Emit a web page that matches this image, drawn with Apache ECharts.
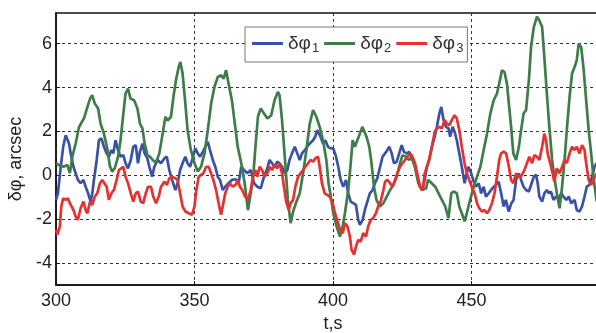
<!DOCTYPE html>
<html>
<head>
<meta charset="utf-8">
<script src="https://cdn.jsdelivr.net/npm/echarts@6/dist/echarts.min.js"></script>
<style>html,body{margin:0;padding:0;background:#fff;overflow:hidden}#c{width:610px;height:333px}</style>
</head>
<body>
<div id="c"></div>
<script>
const seriesNames = ['δφ1', 'δφ2', 'δφ3'];
const xTicks = [300, 350, 400, 450, 500];
const yTicks = [-4, -2, 0, 2, 4, 6];

const tBlue = [300,300.7,301.7,302.6,303.5,304.1,304.7,305.3,306.3,307.1,307.9,308.9,309.9,310.7,311.6,312.5,313.1,313.7,314.7,315.5,316.4,317.3,318.3,319.1,320,320.7,321.5,322.4,323.3,324.3,325.1,326,327,327.9,328.8,329.6,330.3,331.2,332,333,333.7,334.7,335.5,336.7,337.9,339.1,340,340.9,341.9,343.1,343.9,344.8,345.7,346.7,347.5,348.4,349.3,350.3,351.2,352,353,353.9,354.8,355.6,356.6,357.5,358.4,359.2,360.2,361.1,362.3,363.5,364.8,366,366.9,367.9,369.1,370.3,371.5,372.7,373.9,375.1,376.3,377.1,378,378.9,379.9,380.7,381.6,382.5,383.5,384.3,385.2,386.2,387.1,388,388.8,389.8,390.7,391.6,392.8,393.6,394.3,394.8,395.5,396.4,397.2,398.2,399.2,400.1,401.1,401.9,402.8,403.7,404.7,405.5,406.4,407.3,408.3,409.1,409.7,410.7,411.5,412.4,413.3,414.3,415.1,416,417,417.9,418.8,419.6,420.3,421.2,422,423,423.9,424.8,425.6,426.6,427.5,428.7,429.6,430.4,431.4,432.4,433.1,433.9,434.7,435.7,436.7,437.5,438.4,439.1,439.9,440.8,441.7,442.3,443.2,443.9,444.7,445.6,446.5,447.5,448.3,448.9,449.9,450.8,451.6,452.6,453.5,454.4,455.2,456.2,457.1,458,458.8,459.8,460.7,461.6,462.4,463.4,464.4,465.2,466.1,467.1,467.9,468.8,469.7,470.7,471.5,472.5,473.3,473.9,474.5,475.5,476.3,477.2,477.9,478.7,479.6,480.5,481.5,482.4,483.2,484.2,485.1,486,487.2,488,489,489.9,490.8,491.6,492.6,493.5,494.4,495.2];
const vBlue = [-1.12,-0.82,0.39,1.3,1.83,1.9,1.45,1.0,0.39,0.09,-0.21,-0.36,-0.21,-0.52,-0.82,-1.2,-0.82,-0.21,0.7,1.6,1.68,1.3,1.0,0.85,1.15,1.0,1.6,1.15,0.85,0.92,0.55,0.32,0.7,1.3,1.38,0.55,1.07,1.45,1.0,0.77,0.39,-0.06,0.39,0.7,0.55,0.77,0.85,0.24,-0.21,-0.67,-0.36,0.24,0.55,0.85,0.55,0.39,0.77,1.23,1.0,0.85,1.07,1.3,1.53,1.15,0.7,0.39,-0.06,-0.21,-0.67,-0.52,-0.36,-0.21,-0.18,-0.29,0.39,0.24,0.09,0.24,-0.36,-0.52,-0.59,-0.06,0.32,0.7,0.55,0.39,0.62,0.55,0.39,0.09,0.24,0.7,1.0,1.3,1.0,0.7,1.0,1.15,1.3,1.45,1.6,1.76,2.06,2.14,1.76,1.45,1.6,1.3,1.23,1.23,0.85,0.39,-0.21,-0.52,-0.21,-0.82,-1.2,-1.27,-1.35,-2.03,-2.26,-2.03,-1.58,-1.2,-0.82,-0.67,-0.36,-0.14,0.39,0.85,1.0,1.15,1.3,1.0,0.55,0.62,1.0,1.38,1.07,1.0,1.07,0.7,0.39,-0.06,-0.52,-0.59,-0.21,0.39,0.7,1.3,1.76,2.21,2.82,3.12,2.52,2.21,2.14,1.76,2.21,1.98,1.6,1.0,0.39,-0.36,0.09,0.39,0.09,-0.29,-0.52,-0.36,-0.82,-0.52,-0.97,-0.82,-0.67,-0.52,-0.44,-0.29,-0.82,-1.42,-1.12,-1.65,-1.27,-1.12,-0.21,0.09,-0.21,-0.52,-0.67,-0.74,-0.44,-0.06,0.02,-0.36,-0.97,-1.2,-0.82,-0.67,-0.82,-0.74,-1.12,-0.97,-1.05,-0.82,-0.97,-1.12,-0.97,-1.27,-1.12,-1.58,-1.65,-1.42,-0.97,-0.52,-0.44,-0.06,0.39,0.55];

const tGreen = [300,301.7,302.9,304.1,305,305.9,307.1,308.3,310.1,311.3,312.3,313.1,314,315.2,316.1,317.3,318.5,319.5,320.3,321.2,322.4,323.3,324.3,325.1,326,326.9,328.2,329.4,330.3,331.2,332,333,333.9,334.9,336.1,337.3,338.5,339.5,340.3,341.5,342.4,343.3,344.3,344.9,345.7,346.7,347.5,348.7,350,351.2,352.4,353.6,354.8,356,357.2,358.4,359.6,360.5,361.4,362.3,363.5,364.4,365.6,366.9,368.1,369.3,369.9,371.1,372,372.9,373.9,375.1,376.3,377.7,378.9,380.1,380.7,381.6,382.5,383.7,384.7,385.6,386.8,388,389.2,390.4,391.6,392.8,394,395.2,396.4,397.6,398.4,399.4,400.1,401.3,402.5,403.5,404.3,405.5,406.4,407.1,407.9,408.8,409.7,410.6,411.3,412.1,413.1,413.9,414.8,415.7,416.9,418.2,419.4,420.6,421.8,423,424.2,425.1,426.3,427.5,428.4,429.6,430.8,432,433.6,434.3,435.1,436.9,438.7,440.5,441.7,442.7,443.5,444.7,445.6,446.5,447.5,448.3,449.5,450.8,452,453.2,454.4,455.6,456.8,458,459.2,460,461,461.9,462.8,463.6,464.3,465.1,466.1,467.1,467.9,468.8,469.7,470.7,471.5,472.5,473.6,474.5,475.5,476.3,477.2,478.1,479.1,479.9,480.8,481.8,482.7,483.6,484.4,485.4,486.3,487.2,488,488.7,489.6,490.4,491.4,492.3,493.2,494,495.2];
const vGreen = [0.55,0.42,0.4,0.47,0.1,0.85,1.45,2.2,2.6,3.1,3.5,3.65,3.27,3.05,2.36,1.9,1.23,0.4,0.17,0.32,0.85,1.6,2.8,3.73,3.95,3.5,3.42,3.05,2.36,2.14,1.45,0.92,0.85,0.7,0.58,1.0,1.9,2.67,2.5,2.67,3.58,4.33,4.94,5.17,4.64,3.27,2.06,1.15,0.55,0.17,0.4,1.0,2.06,3.27,4.03,4.48,4.56,4.4,4.79,4.18,3.42,2.52,1.3,0.55,-0.36,-1.58,-1.65,-0.2,1.3,2.67,3.05,2.82,2.59,2.74,3.42,3.8,3.65,2.52,1.0,-1.12,-2.18,-1.65,-1.2,-0.82,0.09,1.15,2.36,2.97,2.67,2.21,1.6,0.7,-0.36,-1.12,-1.73,-2.33,-2.79,-2.33,-1.73,-0.67,0.55,1.6,1.3,1.6,1.9,2.21,2.29,1.76,1.3,0.55,-0.52,-1.12,-1.42,-1.27,-0.97,-0.67,-0.44,-0.06,0.55,0.92,0.85,0.7,0.85,0.39,-0.36,-0.67,-0.6,-0.2,-0.29,-0.52,-0.97,-1.42,-1.95,-0.82,-0.74,-0.82,-1.42,-1.73,-2.1,-1.73,-1.12,-0.52,-0.06,0.39,1.15,1.9,2.82,3.42,3.73,4.18,4.79,4.71,4.18,3.12,2.21,1.0,0.7,1.3,2.06,2.82,2.97,4.33,5.85,6.76,7.24,7.06,6.76,5.39,3.73,2.21,0.7,-0.06,-0.82,-1.5,-0.52,0.7,2.06,3.58,4.64,4.94,5.24,6.0,5.85,4.94,3.42,2.06,1.0,-0.06,-1.2];

const tRed = [300,300.5,301.4,301.9,302.6,303.5,304.3,305.3,306.3,307.1,307.9,308.9,309.9,310.7,311.3,312.3,313.1,314,314.9,315.9,316.7,317.3,318.3,319.1,320,320.9,321.9,322.7,323.3,324.3,325.1,326,327,327.9,328.8,329.6,330.6,331.5,332.4,333.2,334.3,335.1,336.1,337.1,337.9,339.1,340,340.9,341.9,343.1,343.9,344.8,345.7,346.7,347.9,349.1,350,350.5,351.5,352.4,353.2,354.2,355.1,356,356.8,357.8,358.7,359.6,360.4,361.1,362,362.8,363.8,364.8,365.6,366.4,367.2,368.3,369.3,370.3,371.1,372,372.7,373.5,374.4,375.3,376.3,377.1,378,378.9,379.9,380.7,381.6,382.3,383.1,384,384.7,385.6,386.4,387.4,388.3,389.2,390,391,391.9,392.8,393.6,394.6,395.2,396,397,397.9,398.8,399.9,400.7,401.5,402.5,403.5,404.3,405.2,406.1,406.7,407.6,408.3,409.1,410,410.9,411.9,412.7,413.6,414.5,415.5,416.3,417.2,418.2,418.8,419.6,420.6,421.5,422.4,423.2,424.2,425.1,426,426.8,427.8,428.7,429.6,430.4,431.4,432.4,433.1,433.9,434.7,435.7,436.7,437.5,438.4,439.3,440.3,441.1,442,442.9,443.9,444.7,445.6,446.5,447.5,448.3,449.2,450.1,451.1,452,452.8,453.8,454.7,455.6,456.4,457.4,458.3,459.2,460,460.7,461.6,462.5,463.5,464.3,465.1,466.1,467.1,467.9,469.1,470,470.9,471.9,472.7,473.6,474.5,475.5,476.3,476.9,477.5,478.4,479.3,479.9,480.8,481.8,482.7,483.6,484.4,485.4,486.3,487.2,488,489,489.9,490.8,491.4,492.3,493.2,494,495.2];
const vRed = [-2.48,-2.7,-2.33,-1.42,-1.05,-1.12,-1.05,-1.35,-1.58,-1.88,-2.03,-1.5,-1.2,-1.58,-1.73,-1.2,-1.35,-0.97,-0.82,-0.36,-0.21,-0.29,-0.52,-1.12,-0.82,-0.67,-0.21,0.24,0.32,0.39,-0.06,-0.36,-0.82,-1.2,-0.82,-0.74,-1.2,-1.27,-0.82,-0.52,-0.52,-0.97,-1.27,-0.97,-0.52,-0.29,-0.44,-0.14,-0.06,-0.14,-0.21,-0.82,-1.42,-1.65,-1.73,-1.8,-1.42,-0.82,-0.06,0.02,0.09,0.39,0.39,0.09,-0.21,-0.67,-1.27,-1.8,-1.27,-0.82,-0.52,-0.36,-0.52,-0.44,-0.21,-0.52,-0.67,-0.97,-1.12,-0.67,-0.06,0.24,-0.06,0.39,0.24,-0.06,0.09,0.39,0.24,0.47,0.32,0.55,0.09,-0.52,-1.2,-1.58,-1.27,-1.12,-0.52,-0.06,0.09,0.24,0.39,0.55,0.7,0.62,0.77,0.85,0.39,-0.36,-0.82,-0.89,-0.97,-1.27,-1.73,-2.03,-2.48,-2.64,-2.18,-2.33,-2.79,-3.39,-3.62,-3.24,-2.94,-3.02,-2.64,-2.79,-2.33,-2.03,-1.95,-1.73,-1.42,-1.2,-0.67,-0.29,-0.21,-0.36,-0.52,-0.21,0.09,0.39,0.55,0.7,0.85,1.0,0.85,0.55,0.09,-0.52,-0.67,0.09,0.39,0.7,1.3,1.98,2.14,2.21,2.14,2.52,2.36,2.29,2.52,2.74,2.59,2.06,1.3,0.55,0.09,-0.21,-0.52,-0.82,-1.27,-1.5,-1.65,-1.58,-1.73,-1.58,-1.27,-0.82,-0.06,0.7,1.0,1.08,1.0,0.39,-0.21,-0.36,0.09,-0.06,-0.06,0.24,0.55,0.85,0.55,0.92,0.85,0.7,1.3,1.9,1.6,1.0,0.55,0.09,-0.29,0.32,0.09,0.39,0.7,0.55,1.0,1.3,1.15,1.3,1.0,1.38,1.15,0.55,-0.21,-0.44,-0.21,0.09];

const colors = ['#3a52a6', '#3e7d48', '#e5312f'];
const pairs = (t, v) => t.map((x, i) => [x, v[i]]);

const chart = echarts.init(document.getElementById('c'), null, {renderer: 'canvas'});
const gridLine = {show: true, lineStyle: {color: '#333', type: [3, 3], width: 1}};
chart.setOption({
  animation: false,
  backgroundColor: '#fff',
  color: colors,
  grid: {left: 56, right: 0, top: 13, bottom: 48, show: true, borderColor: '#111', borderWidth: 1.5, backgroundColor: 'transparent', outerBoundsMode: 'none'},
  legend: {
    data: seriesNames,
    left: 245, top: 27,
    backgroundColor: '#fff', borderColor: '#777', borderWidth: 1,
    padding: [7, 4, 7, 7],
    itemWidth: 31, itemHeight: 3, itemGap: 5, icon: 'rect',
    formatter: n => '{a|' + n.slice(0, 2) + '}{b|' + n.slice(2) + '}',
    textStyle: {
      color: '#333',
      rich: {
        a: {fontFamily: 'Liberation Sans', fontSize: 19, color: '#333'},
        b: {fontFamily: 'Liberation Sans', fontSize: 13, color: '#333', padding: [10, 0, 0, 1]}
      }
    }
  },
  xAxis: {
    type: 'value', min: xTicks[0], max: xTicks[xTicks.length - 1], interval: 50,
    name: 't,s', nameLocation: 'middle', nameGap: 30,
    nameTextStyle: {fontFamily: 'Liberation Sans', fontSize: 18, color: '#222'},
    axisLine: {show: true, onZero: false, lineStyle: {color: '#111', width: 1.5}},
    axisTick: {show: true, inside: true, length: 4, lineStyle: {color: '#111'}},
    axisLabel: {fontFamily: 'Liberation Sans', fontSize: 18, color: '#222', margin: 7, showMaxLabel: false},
    splitLine: gridLine
  },
  yAxis: {
    type: 'value', min: -5, max: 7.4,
    name: 'δφ, arcsec', nameLocation: 'middle', nameGap: 30, nameRotate: 90,
    nameTextStyle: {fontFamily: 'Liberation Sans', fontSize: 18, color: '#222', padding: [0, 20, 0, 0]},
    axisLine: {show: true, onZero: false, lineStyle: {color: '#111', width: 1.5}},
    axisTick: {show: true, inside: true, length: 4, customValues: yTicks, lineStyle: {color: '#111'}},
    axisLabel: {fontFamily: 'Liberation Sans', fontSize: 18, color: '#222', margin: 4, customValues: yTicks},
    splitLine: gridLine
  },
  series: [
    {name: seriesNames[0], type: 'line', data: pairs(tBlue, vBlue), showSymbol: false, symbol: 'none', lineStyle: {width: 2.7, color: colors[0]}, itemStyle: {color: colors[0]}},
    {name: seriesNames[1], type: 'line', data: pairs(tGreen, vGreen), showSymbol: false, symbol: 'none', lineStyle: {width: 2.7, color: colors[1]}, itemStyle: {color: colors[1]}},
    {name: seriesNames[2], type: 'line', data: pairs(tRed, vRed), showSymbol: false, symbol: 'none', lineStyle: {width: 2.7, color: colors[2]}, itemStyle: {color: colors[2]}}
  ]
});
</script>
</body>
</html>
